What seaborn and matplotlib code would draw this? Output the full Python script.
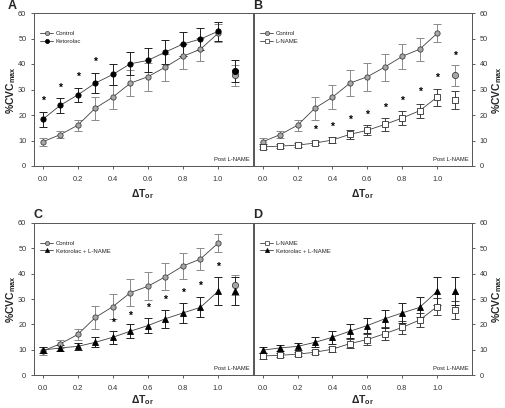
import numpy as np
import matplotlib
matplotlib.use("Agg")
import matplotlib.pyplot as plt
import seaborn as sns
from matplotlib.lines import Line2D

sns.set_theme(style="ticks")
plt.rcParams['font.family'] = ['Liberation Sans', 'DejaVu Sans']
plt.rcParams['mathtext.fontset'] = 'custom'
plt.rcParams['mathtext.bf'] = 'Liberation Sans:bold'
plt.rcParams['mathtext.rm'] = 'Liberation Sans'

# Daten
dT = [0.0, 0.1, 0.2, 0.3, 0.4, 0.5, 0.6, 0.7, 0.8, 0.9, 1.0]
post_x = 1.1

control = [9.5, 12.3, 16.0, 22.7, 27.0, 32.5, 35.0, 38.8, 43.0, 45.8, 52.0]
control_err = [1.5, 1.5, 2.2, 4.5, 4.8, 5.2, 5.5, 5.3, 5.0, 4.5, 3.5]
control_post, control_post_err = 35.5, 4.0

ketorolac = [18.3, 23.8, 27.9, 32.5, 35.9, 40.1, 41.4, 44.7, 47.8, 49.8, 52.8]
ketorolac_err = [3.0, 2.9, 2.8, 3.9, 4.0, 4.5, 4.7, 4.8, 4.6, 4.2, 3.8]
ketorolac_post, ketorolac_post_err = 37.2, 4.2

lname = [7.5, 7.8, 8.2, 9.0, 10.2, 12.4, 14.0, 16.3, 18.8, 21.7, 27.0]
lname_err = [1.0, 0.8, 0.8, 0.8, 1.0, 1.8, 2.0, 2.5, 2.7, 2.8, 3.3]
lname_post, lname_post_err = 25.8, 3.5

keto_lname = [9.8, 10.7, 11.3, 12.9, 14.9, 17.3, 19.5, 22.2, 24.5, 26.7, 33.0]
keto_lname_err = [1.2, 1.3, 1.5, 2.0, 2.5, 2.8, 3.0, 3.6, 3.8, 4.0, 5.5]
keto_lname_post, keto_lname_post_err = 33.0, 5.5

# Sternchen (Signifikanz)
stars_a_x = [0.0, 0.1, 0.2, 0.3]
stars_a_y = [25.5, 30.5, 35.0, 41.0]
stars_b_x = [0.3, 0.4, 0.5, 0.6, 0.7, 0.8, 0.9, 1.0, 1.1]
stars_b_y = [14.0, 15.5, 18.0, 20.0, 23.0, 25.5, 29.0, 34.5, 43.3]
stars_c_x = [0.4, 0.5, 0.6, 0.7, 0.8, 0.9, 1.0]
stars_c_y = [20.5, 23.5, 26.5, 29.5, 32.5, 35.0, 42.5]

styles = {
    "Control": dict(marker="o", mfc="#a8a8a8", mec="#404040", ecol="#8a8a8a"),
    "Ketorolac": dict(marker="o", mfc="black", mec="black", ecol="#202020"),
    "L-NAME": dict(marker="s", mfc="white", mec="#303030", ecol="#404040"),
    "Ketorolac + L-NAME": dict(marker="^", mfc="black", mec="black", ecol="#202020"),
}
series = {
    "Control": (control, control_err, control_post, control_post_err),
    "Ketorolac": (ketorolac, ketorolac_err, ketorolac_post, ketorolac_post_err),
    "L-NAME": (lname, lname_err, lname_post, lname_post_err),
    "Ketorolac + L-NAME": (keto_lname, keto_lname_err, keto_lname_post, keto_lname_post_err),
}

fig = plt.figure(figsize=(5.05, 4.08), dpi=100)
W, H = 505, 408


def make_ax(l, r, t, b):
    return fig.add_axes([l / W, 1 - b / H, (r - l) / W, (b - t) / H])


axA = make_ax(34, 253, 13, 166)
axB = make_ax(254, 472, 13, 166)
axC = make_ax(34, 253, 223, 375)
axD = make_ax(254, 472, 223, 375)

panels = [
    (axA, ["Control", "Ketorolac"], stars_a_x, stars_a_y, False),
    (axB, ["Control", "L-NAME"], stars_b_x, stars_b_y, True),
    (axC, ["Control", "Ketorolac + L-NAME"], stars_c_x, stars_c_y, False),
    (axD, ["L-NAME", "Ketorolac + L-NAME"], [], [], True),
]

for ax, names, sx, sy, right in panels:
    handles = []
    for name in names:
        y, yerr, py, pyerr = series[name]
        st = styles[name]
        ax.errorbar(dT + [post_x], y + [py], yerr=yerr + [pyerr], fmt="none",
                    ecolor=st["ecol"], elinewidth=0.7, capsize=2.6, capthick=0.7, zorder=2)
        sns.lineplot(x=dT, y=y, ax=ax, color="#404040", linewidth=0.6,
                     marker=st["marker"], markersize=3.8, markerfacecolor=st["mfc"],
                     markeredgecolor=st["mec"], markeredgewidth=0.6, zorder=3)
        sns.scatterplot(x=[post_x], y=[py], ax=ax, marker=st["marker"], s=20,
                        color=st["mfc"], edgecolor=st["mec"], linewidth=0.6, zorder=3)
        handles.append(Line2D([], [], color="#404040", linewidth=0.6, marker=st["marker"],
                              markersize=3.0, markerfacecolor=st["mfc"],
                              markeredgecolor=st["mec"], markeredgewidth=0.5, label=name))
    for xs, ys in zip(sx, sy):
        ax.text(xs, ys, "*", ha="center", va="center", fontsize=7.5, color="black",
                fontweight="bold")
    ax.legend(handles=handles, loc="upper left", bbox_to_anchor=(0.0, 0.92),
              frameon=False, fontsize=4.3, handlelength=2.2, handletextpad=0.4,
              labelspacing=0.35, borderaxespad=0.6)
    ax.text(0.985, 0.025, "Post L-NAME", transform=ax.transAxes, ha="right",
            va="bottom", fontsize=4.2, color="#222222")
    ax.set_xlim(-0.05, 1.2)
    ax.set_ylim(0, 60)
    ax.set_xticks([0.0, 0.2, 0.4, 0.6, 0.8, 1.0])
    ax.set_xticklabels(["0.0", "0.2", "0.4", "0.6", "0.8", "1.0"])
    ax.set_yticks(range(0, 61, 10))
    ax.tick_params(labelsize=5.3, length=2.5, width=0.6, colors="#444444",
                   labelcolor="#333333")
    ax.tick_params(axis="x", pad=4.5)
    ax.tick_params(axis="y", pad=3)
    for sp in ax.spines.values():
        sp.set_visible(True)
        sp.set_linewidth(0.7)
        sp.set_color("#555555")
    ax.set_xlabel("")
    ax.set_ylabel("")
    if right:
        ax.yaxis.tick_right()

xlabel = r"$\mathbf{\Delta T_{or}}$"
ylabel = r"$\mathbf{\%CVC_{max}}$"
for xc, yc in [(143, 194), (363, 194), (143, 400), (363, 400)]:
    fig.text(xc / W, 1 - yc / H, xlabel, fontsize=7.5, ha="center", va="center")
for xc, yc in [(11, 90), (497, 90), (11, 299), (497, 299)]:
    fig.text(xc / W, 1 - yc / H, ylabel, fontsize=7.5, ha="center", va="center",
             rotation=90)

fig.text(8 / W, 1 - 6 / H, "A", fontsize=9, fontweight="bold", va="center")
fig.text(253 / W, 1 - 6 / H, "B", fontsize=9, fontweight="bold", va="center")
fig.text(33 / W, 1 - 215 / H, "C", fontsize=9, fontweight="bold", va="center")
fig.text(253 / W, 1 - 215 / H, "D", fontsize=9, fontweight="bold", va="center")

fig.savefig("out.png", dpi=100)
